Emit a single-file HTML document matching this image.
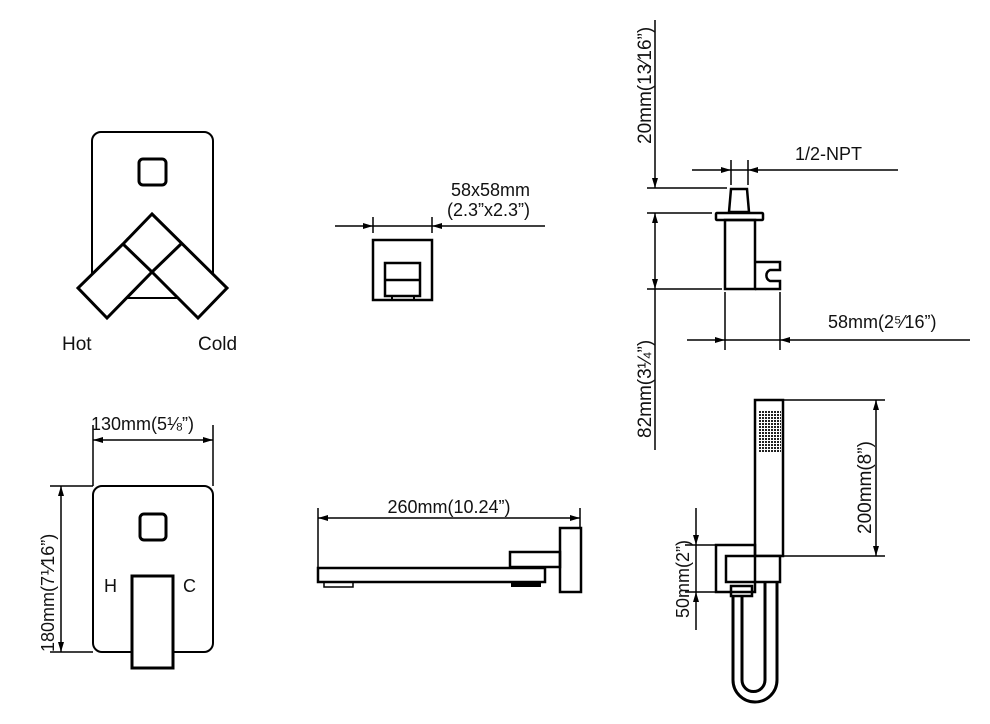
<!DOCTYPE html>
<html><head><meta charset="utf-8"><style>
html,body{margin:0;padding:0;background:#fff;}
svg{display:block;}
text{font-family:"Liberation Sans",sans-serif;fill:#111;}
</style></head><body>
<svg width="990" height="724" viewBox="0 0 990 724" xmlns="http://www.w3.org/2000/svg">
<defs>
<marker id="a" viewBox="0 0 10 6" refX="10" refY="3" markerWidth="10" markerHeight="6" orient="auto-start-reverse" markerUnits="userSpaceOnUse"><path d="M0,0 L10,3 L0,6 z" fill="#000"/></marker>
<pattern id="dots" width="3" height="3" patternUnits="userSpaceOnUse"><rect width="2" height="2" fill="#222"/></pattern>
</defs>
<g fill="none" stroke="#000" stroke-width="2">
<rect x="92" y="132" width="121" height="166" rx="9"/>
<rect x="139" y="159" width="27" height="26" rx="4" stroke-width="3"/>
<polygon points="152,214 227,288 198,318 152,272 107,318 78,288 123,244" fill="#fff" stroke-width="3"/>
<line x1="123" y1="244" x2="152" y2="272" stroke-width="3"/>
<line x1="181" y1="244" x2="152" y2="272" stroke-width="3"/>
<rect x="373" y="240" width="59" height="60" stroke-width="2.5"/>
<rect x="385" y="263" width="35" height="33" stroke-width="2.5"/>
<line x1="385" y1="280" x2="420" y2="280" stroke-width="2.5"/>
<rect x="392" y="296" width="22" height="4"/>
</g>
<g stroke="#000" stroke-width="1.5" fill="none">
<line x1="335" y1="226" x2="373" y2="226" marker-end="url(#a)"/>
<line x1="373" y1="226" x2="432" y2="226"/>
<line x1="545" y1="226" x2="432" y2="226" marker-end="url(#a)"/>
<line x1="373" y1="217" x2="373" y2="233"/>
<line x1="432" y1="217" x2="432" y2="233"/>
</g>
<text x="451" y="196" font-size="18">58x58mm</text>
<text x="447" y="216" font-size="18">(2.3”x2.3”)</text>
<text x="62" y="350" font-size="19">Hot</text>
<text x="198" y="350" font-size="19">Cold</text>

<g fill="none" stroke="#000" stroke-width="2">
<rect x="93" y="486" width="120" height="166" rx="9"/>
<rect x="140" y="514" width="26" height="26" rx="4" stroke-width="3"/>
<rect x="132" y="576" width="41" height="92" fill="#fff" stroke-width="3"/>
</g>
<g stroke="#000" stroke-width="1.5">
<line x1="93" y1="425" x2="93" y2="486"/>
<line x1="213" y1="425" x2="213" y2="486"/>
<line x1="93" y1="440" x2="213" y2="440" marker-start="url(#a)" marker-end="url(#a)"/>
<line x1="50" y1="486" x2="93" y2="486"/>
<line x1="50" y1="652" x2="93" y2="652"/>
<line x1="61" y1="486" x2="61" y2="652" marker-start="url(#a)" marker-end="url(#a)"/>
</g>
<text x="91" y="430" font-size="18">130mm(5⅛”)</text>
<text transform="translate(54,652) rotate(-90)" font-size="18">180mm(7⅟16”)</text>
<text x="104" y="592" font-size="18">H</text>
<text x="183" y="592" font-size="18">C</text>

<g fill="none" stroke="#000" stroke-width="2.5">
<rect x="560" y="528" width="21" height="64"/>
<rect x="510" y="552" width="50" height="15"/>
<rect x="318" y="568" width="227" height="14" fill="#fff"/>
<rect x="324" y="582" width="29" height="5" stroke-width="1.5"/>
</g>
<rect x="511" y="582" width="30" height="5" fill="#000"/>
<g stroke="#000" stroke-width="1.5">
<line x1="318" y1="508" x2="318" y2="568"/>
<line x1="580" y1="508" x2="580" y2="528"/>
<line x1="318" y1="518" x2="580" y2="518" marker-start="url(#a)" marker-end="url(#a)"/>
</g>
<text x="449" y="513" font-size="18" text-anchor="middle">260mm(10.24”)</text>

<g stroke="#000" stroke-width="1.5" fill="none">
<line x1="655" y1="20" x2="655" y2="188" marker-end="url(#a)"/>
<line x1="655" y1="213" x2="655" y2="289" marker-start="url(#a)" marker-end="url(#a)"/>
<line x1="655" y1="289" x2="655" y2="450"/>
<line x1="647" y1="188" x2="727" y2="188"/>
<line x1="647" y1="213" x2="712" y2="213"/>
<line x1="647" y1="289" x2="722" y2="289"/>
<line x1="692" y1="170" x2="731" y2="170" marker-end="url(#a)"/>
<line x1="731" y1="170" x2="748" y2="170"/>
<line x1="898" y1="170" x2="748" y2="170" marker-end="url(#a)"/>
<line x1="731" y1="160" x2="731" y2="185"/>
<line x1="748" y1="160" x2="748" y2="185"/>
<line x1="687" y1="340" x2="725" y2="340" marker-end="url(#a)"/>
<line x1="725" y1="340" x2="780" y2="340"/>
<line x1="970" y1="340" x2="780" y2="340" marker-end="url(#a)"/>
<line x1="725" y1="292" x2="725" y2="350"/>
<line x1="780" y1="292" x2="780" y2="350"/>
</g>
<g fill="none" stroke="#000" stroke-width="2.5">
<polygon points="731,189 747,189 749,212 729,212"/>
<rect x="716" y="213" width="47" height="7" rx="1"/>
<rect x="725" y="220" width="30" height="69"/>
<path d="M755,262 H780 V270 H770 A6,6 0 0 0 770,281 H780 V289 H755"/>
</g>
<text x="795" y="160" font-size="18">1/2-NPT</text>
<text x="828" y="328" font-size="18">58mm(2⁵⁄16”)</text>
<text transform="translate(651,144) rotate(-90)" font-size="19">20mm(13⁄16”)</text>
<text transform="translate(651,438) rotate(-90)" font-size="19">82mm(3¼”)</text>

<g fill="none" stroke="#000" stroke-width="2.5">
<rect x="755" y="400" width="28" height="156"/>
<rect x="716" y="545" width="39" height="47"/>
<rect x="726" y="556" width="54" height="26" fill="#fff"/>
<line x1="755" y1="556" x2="755" y2="582"/>
<rect x="731" y="586" width="21" height="10"/>
<path d="M733,596 V680 A22,22 0 0 0 777,680 V582" stroke-width="3"/>
<path d="M742,596 V680 A11,11 0 0 0 765,680 V582" stroke-width="3"/>
</g>
<rect x="758" y="410" width="23" height="42" fill="url(#dots)"/>
<g stroke="#000" stroke-width="1.5">
<line x1="783" y1="400" x2="885" y2="400"/>
<line x1="783" y1="556" x2="885" y2="556"/>
<line x1="876" y1="400" x2="876" y2="556" marker-start="url(#a)" marker-end="url(#a)"/>
<line x1="685" y1="545" x2="716" y2="545"/>
<line x1="685" y1="592" x2="716" y2="592"/>
<line x1="696" y1="508" x2="696" y2="545" marker-end="url(#a)"/>
<line x1="696" y1="545" x2="696" y2="592"/>
<line x1="696" y1="630" x2="696" y2="592" marker-end="url(#a)"/>
</g>
<text transform="translate(871,534) rotate(-90)" font-size="19">200mm(8”)</text>
<text transform="translate(689,618) rotate(-90)" font-size="18">50mm(2”)</text>
</svg>
</body></html>
